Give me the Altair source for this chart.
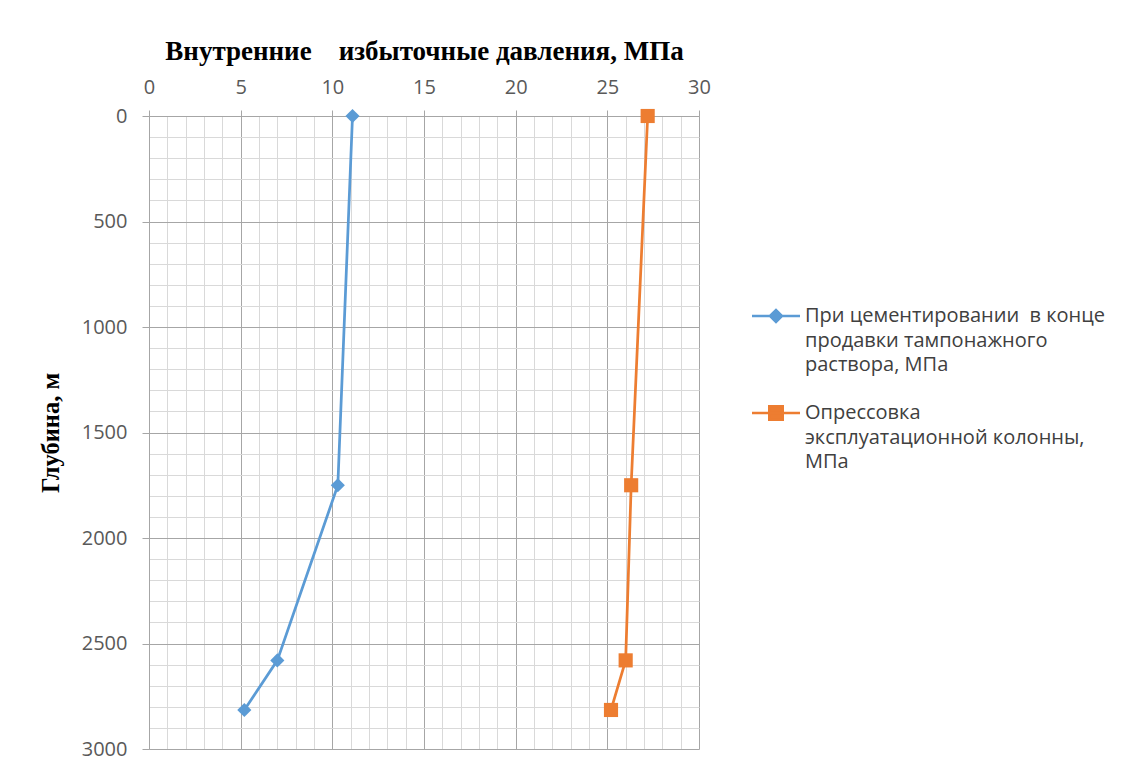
import altair as alt
import pandas as pd

# ---- data ----
depth = [0, 1750, 2580, 2815]
cementing = [11.1, 10.3, 7.0, 5.2]          # При цементировании ...
pressure_test = [27.2, 26.3, 26.0, 25.2]    # Опрессовка ...
series_names = [
    "При цементировании\u00a0 в конце\nпродавки тампонажного\nраствора, МПа",
    "Опрессовка\nэксплуатационной колонны,\nМПа",
]
series_colors = ["#5B9BD5", "#ED7D31"]
marker_shapes = ["diamond", "square"]
legend_symbols = [
    "M-4.8,0H4.8M-1.2,0L0,-1.2L1.2,0L0,1.2Z",
    "M-4.8,0H4.8M-1.35,-1.35H1.35V1.35H-1.35Z",
]
x_ticks = list(range(0, 31))
y_ticks = list(range(0, 3001, 100))
x_title = "Внутренние\u00a0\u00a0\u00a0 избыточные давления, МПа"
y_title = "Глубина, м"

rows = []
for name, vals in zip(series_names, [cementing, pressure_test]):
    for d, v in zip(depth, vals):
        rows.append({"series": name, "depth": d, "p": v})
df = pd.DataFrame(rows)

legend = alt.Legend(
    title=None,
    orient="none",
    legendX=617,
    legendY=190,
    padding=0,
    symbolSize=100,
    symbolStrokeWidth=2.5,
    labelOffset=19,
    labelFont="Open Sans",
    labelFontSize=20,
    labelColor="#404040",
    labelLimit=400,
    labelBaseline="middle",
    labelExpr="split(datum.label, '\\n')",
    rowPadding=26,
)
color_scale = alt.Scale(domain=series_names, range=series_colors)
fill_enc = alt.Fill("series:N", scale=color_scale, legend=legend)
stroke_enc = alt.Stroke("series:N", scale=color_scale, legend=legend)

x_enc = alt.X(
    "p:Q",
    scale=alt.Scale(domain=[0, 30], nice=False, zero=False),
    axis=alt.Axis(
        orient="top",
        values=x_ticks,
        title=x_title,
        titleFont="Liberation Serif",
        titleFontSize=27,
        titleFontWeight="bold",
        titleColor="#000000",
        titlePadding=12,
        labelExpr="datum.value % 5 === 0 ? datum.label : ''",
        labelFont="Open Sans",
        labelFontSize=20,
        labelColor="#595959",
        labelPadding=13,
        labelOverlap=False,
        labelFlush=False,
        domainColor="#a6a6a6",
        tickColor="#a6a6a6",
        tickSize={"condition": {"test": "datum.value % 5 === 0", "value": 6}, "value": 0},
        grid=True,
        gridColor={"condition": {"test": "datum.value % 5 === 0", "value": "#a6a6a6"}, "value": "#d9d9d9"},
        gridWidth=1,
    ),
)

y_enc = alt.Y(
    "depth:Q",
    scale=alt.Scale(domain=[0, 3000], reverse=True, nice=False, zero=False),
    axis=alt.Axis(
        values=y_ticks,
        format="d",
        title=y_title,
        titleFont="Liberation Serif",
        titleFontSize=24.5,
        titleFontWeight="bold",
        titleColor="#000000",
        titlePadding=18,
        labelExpr="datum.value % 500 === 0 ? datum.label : ''",
        labelFont="Open Sans",
        labelFontSize=20,
        labelColor="#595959",
        labelPadding=15,
        labelOverlap=False,
        labelFlush=False,
        domainColor="#a6a6a6",
        tickColor="#a6a6a6",
        tickSize={"condition": {"test": "datum.value % 500 === 0", "value": 7}, "value": 0},
        grid=True,
        gridColor={"condition": {"test": "datum.value % 500 === 0", "value": "#a6a6a6"}, "value": "#d9d9d9"},
        gridWidth=1,
    ),
)

lines = alt.Chart(df).mark_line(strokeWidth=2.75).encode(
    x=x_enc, y=y_enc, stroke=stroke_enc, order=alt.Order("depth:Q")
)

point_layers = []
for name, shp in zip(series_names, marker_shapes):
    point_layers.append(
        alt.Chart(df)
        .transform_filter(alt.FieldEqualPredicate(field="series", equal=name))
        .mark_point(filled=True, opacity=1, size=200, shape=shp)
        .encode(x=x_enc, y=y_enc, fill=fill_enc)
    )

# empty layer that only carries the legend symbols (line + marker)
legend_layer = (
    alt.Chart(df)
    .transform_filter("false")
    .mark_point(filled=True, opacity=1)
    .encode(
        x=x_enc,
        y=y_enc,
        fill=fill_enc,
        stroke=stroke_enc,
        shape=alt.Shape(
            "series:N",
            scale=alt.Scale(domain=series_names, range=legend_symbols),
            legend=legend,
        ),
    )
)

chart = (
    alt.layer(lines, *point_layers, legend_layer)
    .properties(
        width=550,
        height=633,
        autosize=alt.AutoSizeParams(type="none"),
        padding={"left": 149, "top": 116, "right": 427, "bottom": 20},
    )
    .configure(background="white", style={"guide-label": {"lineHeight": 24.5}})
    .configure_view(strokeWidth=0)
)

chart.save("out.html", embed_options={"renderer": "svg", "actions": False})
